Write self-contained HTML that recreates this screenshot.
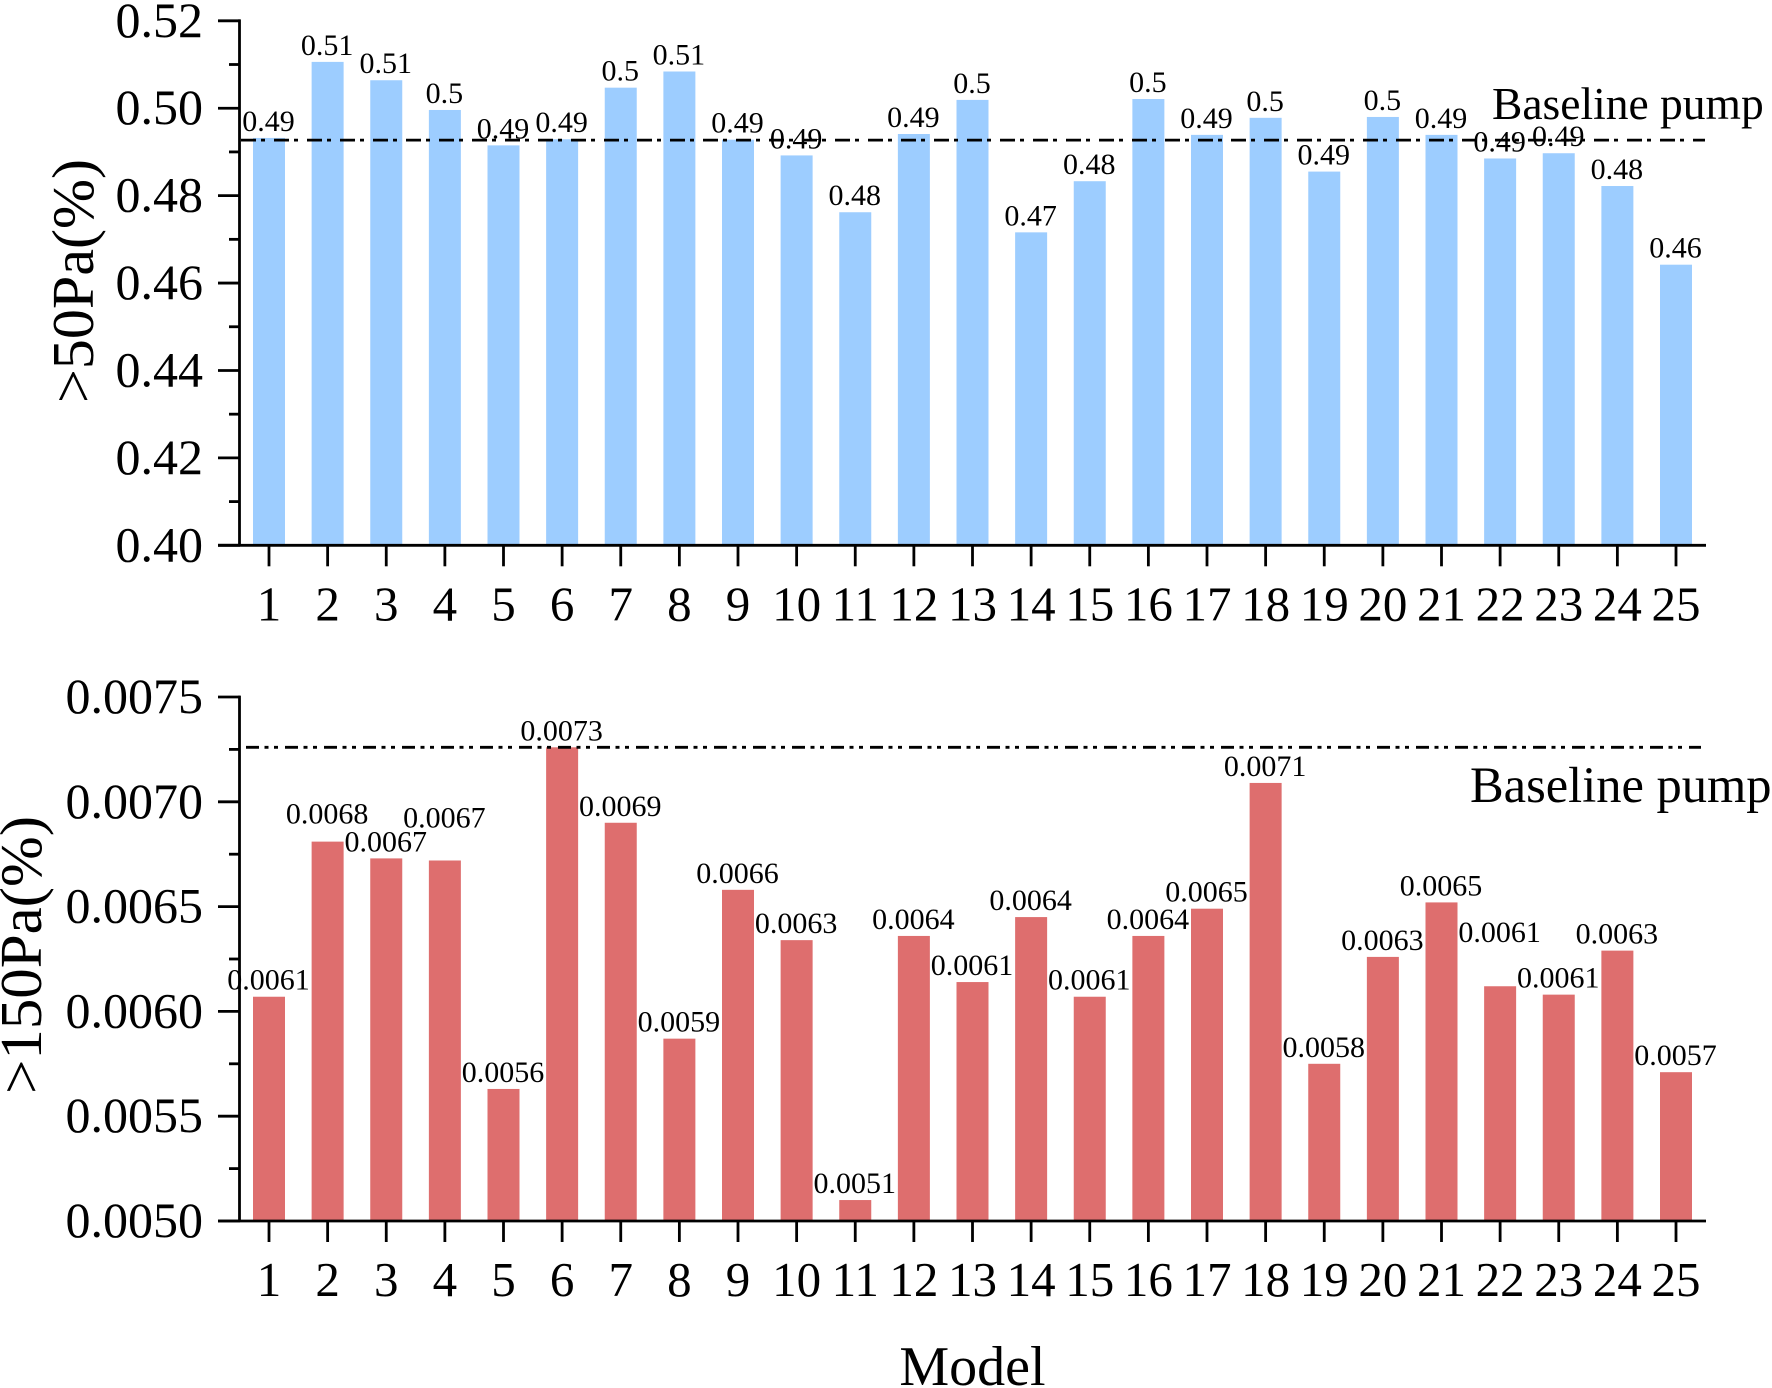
<!DOCTYPE html>
<html lang="en">
<head>
<meta charset="utf-8">
<title>Pressure exceedance by pump model</title>
<style>
  html, body { margin: 0; padding: 0; background: #fff; }
  svg { display: block; }
  text { font-family: "Liberation Serif", "Times New Roman", serif; fill: #000; }
</style>
</head>
<body>
<svg id="chart" xmlns="http://www.w3.org/2000/svg" width="1772" height="1388" viewBox="0 0 1772 1388">
  <rect x="0" y="0" width="1772" height="1388" fill="#ffffff"/>
  <text x="972.5" y="1385" font-size="56" text-anchor="middle">Model</text>
</svg>
<script>
const categories = [1, 2, 3, 4, 5, 6, 7, 8, 9, 10, 11, 12, 13, 14, 15, 16, 17, 18, 19, 20, 21, 22, 23, 24, 25];

const topValues = [0.4932, 0.5106, 0.5064, 0.4996, 0.4915, 0.4929, 0.5047, 0.5084, 0.4928, 0.4892, 0.4762, 0.4941, 0.5019, 0.4716, 0.4833, 0.5021, 0.4939, 0.4978, 0.4855, 0.4980, 0.4939, 0.4885, 0.4897, 0.4822, 0.4642];
const topLabels = ["0.49", "0.51", "0.51", "0.5", "0.49", "0.49", "0.5", "0.51", "0.49", "0.49", "0.48", "0.49", "0.5", "0.47", "0.48", "0.5", "0.49", "0.5", "0.49", "0.5", "0.49", "0.49", "0.49", "0.48", "0.46"];
const topTicks = ["0.40", "0.42", "0.44", "0.46", "0.48", "0.50", "0.52"];
const topBaseline = 0.4927;

const bottomValues = [0.00607, 0.00681, 0.00673, 0.00672, 0.00563, 0.00726, 0.00690, 0.00587, 0.00658, 0.00634, 0.00510, 0.00636, 0.00614, 0.00645, 0.00607, 0.00636, 0.00649, 0.00709, 0.00575, 0.00626, 0.00652, 0.00612, 0.00608, 0.00629, 0.00571];
const bottomLabels = ["0.0061", "0.0068", "0.0067", "0.0067", "0.0056", "0.0073", "0.0069", "0.0059", "0.0066", "0.0063", "0.0051", "0.0064", "0.0061", "0.0064", "0.0061", "0.0064", "0.0065", "0.0071", "0.0058", "0.0063", "0.0065", "0.0061", "0.0061", "0.0063", "0.0057"];
const bottomTicks = ["0.0050", "0.0055", "0.0060", "0.0065", "0.0070", "0.0075"];
const bottomBaseline = 0.00726;

const NS = 'http://www.w3.org/2000/svg';
const svg = document.getElementById('chart');
const STROKE = 2.8;

function make(tag, attrs, parent) {
  const el = document.createElementNS(NS, tag);
  Object.keys(attrs).forEach(function (k) { el.setAttribute(k, attrs[k]); });
  parent.appendChild(el);
  return el;
}

function xScale(i) {
  return 269 + i * 58.625;
}

function drawPanel(p) {
  const g = make('g', {}, svg);
  
  

  const tickMin = parseFloat(p.ticks[0]);
  const tickMax = parseFloat(p.ticks[p.ticks.length - 1]);
  const y = function (v) {
    return p.yBottom - (v - tickMin) / (tickMax - tickMin) * (p.yBottom - p.yTop);
  };

  // Bars
  p.values.forEach(function (v, i) {
    const top = y(v);
    const bar = make('rect', { x: xScale(i) - 16, y: top, width: 32, height: p.yBottom - top, fill: p.color }, g);
    
    
  });

  // Baseline reference line
  const base = make('line', {
    x1: p.baseStart, x2: p.baseEnd, y1: y(p.baseline), y2: y(p.baseline),
    stroke: '#000', 'stroke-width': STROKE, 'stroke-dasharray': p.dash
  }, g);
  
  

  // Y axis ticks
  p.ticks.forEach(function (t, i) {
    const ty = y(parseFloat(t));
    const tick = make('line', { x1: 218, x2: 240, y1: ty, y2: ty, stroke: '#000', 'stroke-width': STROKE }, g);
    
    
    const label = make('text', { x: 203, y: ty + 16, 'font-size': 50, 'text-anchor': 'end' }, g);
    label.textContent = t;
    
    
    if (i < p.ticks.length - 1) {
      const my = y((parseFloat(t) + parseFloat(p.ticks[i + 1])) / 2);
      const minor = make('line', { x1: 229, x2: 240, y1: my, y2: my, stroke: '#000', 'stroke-width': STROKE }, g);
      
      
    }
  });

  // X axis ticks and labels
  categories.forEach(function (c, i) {
    const tick = make('line', { x1: xScale(i), x2: xScale(i), y1: p.yBottom, y2: p.yBottom + 21, stroke: '#000', 'stroke-width': STROKE }, g);
    
    
    const label = make('text', { x: xScale(i), y: p.yBottom + 75, 'font-size': 49, 'text-anchor': 'middle' }, g);
    label.textContent = c;
    
    
  });

  // Axis lines
  const yAxis = make('line', { x1: 239.5, x2: 239.5, y1: p.yTop - 1.4, y2: p.yBottom, stroke: '#000', 'stroke-width': STROKE }, g);
  
  
  const xAxis = make('line', { x1: 218, x2: 1706, y1: p.yBottom, y2: p.yBottom, stroke: '#000', 'stroke-width': STROKE }, g);
  
  

  // Value labels sit above each bar; a few are lifted clear of their neighbours
  p.values.forEach(function (v, i) {
    const lift = p.labelLift[categories[i]] || 0;
    const label = make('text', { x: xScale(i) - 0.5, y: y(v) - 7 - lift, 'font-size': 30, 'text-anchor': 'middle' }, g);
    label.textContent = p.labels[i];
    
    
  });

  // Y axis title
  const title = make('text', {
    transform: 'translate(' + p.titleX + ',' + p.titleY + ') rotate(-90)',
    'font-size': 59, 'text-anchor': 'start',
    textLength: p.titleLength, lengthAdjust: 'spacingAndGlyphs'
  }, g);
  title.textContent = p.title;
  
  

  // Baseline annotation
  const note = make('text', { x: p.noteX, y: p.noteY, 'font-size': p.noteSize }, g);
  note.textContent = 'Baseline pump';
  
  
}

drawPanel({
  name: 'top-panel',
  values: topValues, labels: topLabels, ticks: topTicks, baseline: topBaseline,
  yTop: 20.8, yBottom: 545.3, color: '#9dcdff',
  baseStart: 241, baseEnd: 1705, dash: '15 5 4 9',
  labelLift: {},
  title: '>50Pa(%)', titleX: 93, titleY: 403, titleLength: 244,
  noteX: 1492, noteY: 119, noteSize: 45.5
});

drawPanel({
  name: 'bottom-panel',
  values: bottomValues, labels: bottomLabels, ticks: bottomTicks, baseline: bottomBaseline,
  yTop: 697, yBottom: 1221, color: '#de6e6e',
  baseStart: 246, baseEnd: 1701, dash: '13 5.5 4 5.5 4 7',
  labelLift: { 2: 11, 4: 26, 22: 37 },
  title: '>150Pa(%)', titleX: 41, titleY: 1094, titleLength: 278,
  noteX: 1470, noteY: 802, noteSize: 50.5
});
</script>
</body>
</html>
